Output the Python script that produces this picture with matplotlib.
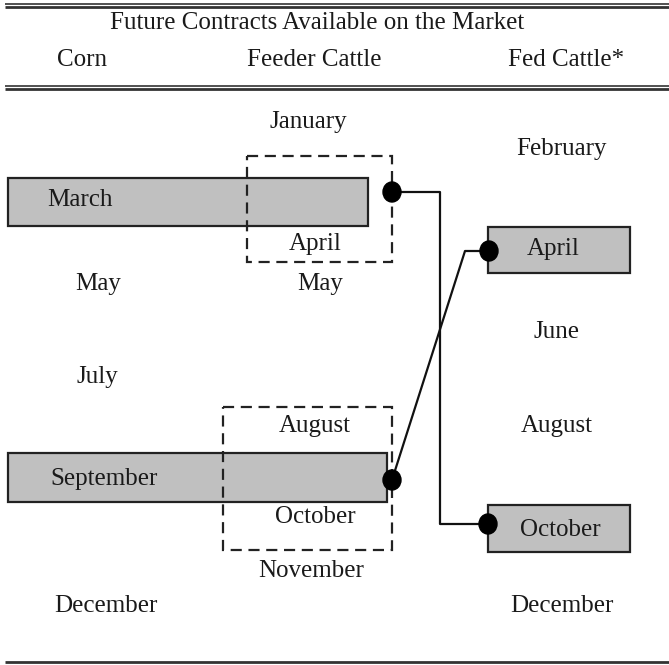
import matplotlib
matplotlib.use("Agg")
import matplotlib.pyplot as plt
from matplotlib.patches import Rectangle, Ellipse

# canvas is laid out in pixel units of the reference (y grows downward)
W, H = 669, 665

TITLE = "Future Contracts Available on the Market"
COLUMNS = ["Corn", "Feeder Cattle", "Fed Cattle*"]
COL_X = [82, 314, 566]

# month labels per column, with their row and horizontal position
corn_months = ["March", "May", "July", "September", "December"]
corn_x = [80, 98, 97, 104, 106]
corn_y = [200, 284, 377, 479, 606]

feeder_months = ["January", "April", "May", "August", "October", "November"]
feeder_x = [308, 315, 320, 315, 315, 311]
feeder_y = [122, 244, 284, 426, 517, 571]

fed_months = ["February", "April", "June", "August", "October", "December"]
fed_x = [561, 553, 556, 557, 560, 562]
fed_y = [149, 249, 332, 426, 530, 606]

# shaded contracts (x0, x1, y0, y1)
bars = [
    (8, 368, 178, 226),     # corn March
    (8, 387, 453, 502),     # corn September
    (488, 630, 227, 273),   # fed April
    (488, 630, 505, 552),   # fed October
]
# dashed feeder windows (x0, x1, y0, y1)
windows = [
    (247, 392, 156, 262),
    (223, 392, 407, 550),
]
# connectors between contracts
links = [
    ([392, 440, 440, 488], [192, 192, 524, 524]),
    ([392, 465, 489], [480, 251, 251]),
]
dots = [(392, 192), (489, 251), (392, 480), (488, 524)]

FONT = "Liberation Serif"
FS = 18

fig = plt.figure(figsize=(W / 100, H / 100), dpi=100)
ax = fig.add_axes([0, 0, 1, 1])
ax.set_xlim(0, W)
ax.set_ylim(H, 0)
ax.axis("off")

# rules
for y, lw in [(3.5, 1.2), (6.5, 2.0), (86, 1.2), (89, 2.0), (662, 2.0)]:
    ax.plot([5, W], [y, y], color="#333333", lw=lw, solid_capstyle="butt")

ax.text(317, 23, TITLE, ha="center", va="center", fontsize=FS, family=FONT, color="#1a1a1a")
for name, x in zip(COLUMNS, COL_X):
    ax.text(x, 60, name, ha="center", va="center", fontsize=FS, family=FONT, color="#1a1a1a")

for x0, x1, y0, y1 in bars:
    ax.add_patch(Rectangle((x0, y0), x1 - x0, y1 - y0, facecolor="#c0c0c0",
                           edgecolor="#222222", lw=1.6, zorder=1))

for x0, x1, y0, y1 in windows:
    ax.add_patch(Rectangle((x0, y0), x1 - x0, y1 - y0, facecolor="none",
                           edgecolor="#222222", lw=1.6, linestyle=(0, (5, 3)), zorder=2))

for xs, ys in links:
    ax.plot(xs, ys, color="#111111", lw=1.6, zorder=3)

for cx, cy in dots:
    ax.add_patch(Ellipse((cx, cy), 18, 20, facecolor="black", edgecolor="black", zorder=4))

for months, xs, ys in [(corn_months, corn_x, corn_y),
                       (feeder_months, feeder_x, feeder_y),
                       (fed_months, fed_x, fed_y)]:
    for m, x, y in zip(months, xs, ys):
        ax.text(x, y, m, ha="center", va="center", fontsize=FS, family=FONT,
                color="#1a1a1a", zorder=5)

fig.savefig("out.png", dpi=100)
